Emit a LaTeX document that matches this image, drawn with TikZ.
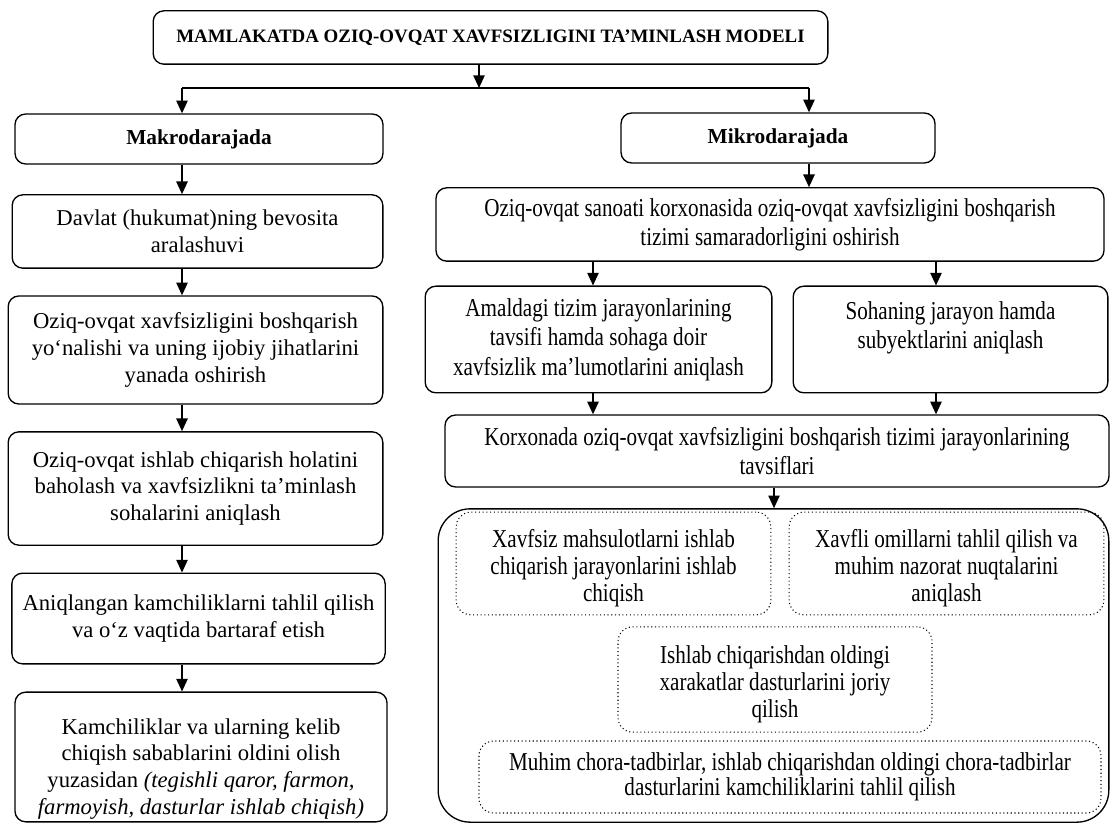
\documentclass[tikz,border=0pt]{standalone}
\usepackage{fontspec}
\setmainfont{Liberation Serif}
\newfontfamily\narrowserif[FakeStretch=0.82]{Liberation Serif}
\usetikzlibrary{positioning, arrows.meta, calc}

\begin{document}
\begin{tikzpicture}[x=0.75pt, y=-0.75pt,
  every node/.style={font=\fontsize{17}{20}\selectfont},
  mainbox/.style={rectangle, rounded corners=8pt, draw=black, line width=1pt,
              align=center, inner sep=2pt},
  headbox/.style={mainbox, font=\fontsize{16}{19}\selectfont\bfseries},
  rightbox/.style={mainbox, font=\narrowserif\fontsize{19.3}{22}\selectfont},
  dotbox/.style={rectangle, rounded corners=11pt, draw=black, dotted, line width=0.8pt,
              align=center, inner sep=2pt, font=\narrowserif\fontsize{19.3}{20.5}\selectfont},
  groupbox/.style={rectangle, rounded corners=24pt, draw=black, line width=1pt},
  arr/.style={-{Triangle[length=9.5pt, width=8.5pt]}, line width=1.1pt},
  link/.style={line width=1.1pt},
]
  \useasboundingbox (0,0) rectangle (1110,823);

  \coordinate (split)  at (479, 88);
  \coordinate (lsplit) at (182, 88);
  \coordinate (rsplit) at (809, 88);
  \coordinate (ax)     at (593, 0);
  \coordinate (sx)     at (936, 0);
  \coordinate (kx)     at (774, 0);

  \node[mainbox, font=\fontsize{14.2}{17}\selectfont\bfseries, minimum width=506pt,
        minimum height=40pt] (title) at (490.5, 37.5)
        {MAMLAKATDA OZIQ-OVQAT XAVFSIZLIGINI TA’MINLASH MODELI};

  \node[headbox, minimum width=276pt, minimum height=37.5pt] (makro) at (199, 139) {Makrodarajada};
  \node[headbox, minimum width=235.5pt, minimum height=37.5pt] (mikro) at (778, 138) {Mikrodarajada};

  % left column
  \node[mainbox, minimum width=278pt, minimum height=55pt] (davlat) at (197.5, 231.5)
        {Davlat (hukumat)ning bevosita\\aralashuvi};
  \node[mainbox, minimum width=281pt, minimum height=81pt] (yonalish) at (195.5, 350)
        {Oziq-ovqat xavfsizligini boshqarish\\yo‘nalishi va uning ijobiy jihatlarini\\yanada oshirish};
  \node[mainbox, minimum width=281pt, minimum height=85pt] (baholash) at (195.5, 488.5)
        {Oziq-ovqat ishlab chiqarish holatini\\baholash va xavfsizlikni ta’minlash\\sohalarini aniqlash};
  \node[mainbox, minimum width=280pt, minimum height=68pt] (tahlil) at (198.5, 618.5)
        {Aniqlangan kamchiliklarni tahlil qilish\\va o‘z vaqtida bartaraf etish};
  \node[mainbox, minimum width=279pt, minimum height=96pt] (oldini) at (201, 757)
        {\mbox{}\\[9.6pt]Kamchiliklar va ularning kelib\\chiqish sabablarini oldini olish\\yuzasidan
         \textit{(tegishli qaror, farmon,}\\\textit{farmoyish, dasturlar ishlab chiqish)}};

  % right column
  \node[rightbox, minimum width=501pt, minimum height=55pt] (sanoat) at (770, 224.5)
        {Oziq-ovqat sanoati korxonasida oziq-ovqat xavfsizligini boshqarish\\tizimi samaradorligini oshirish};
  \node[rightbox, minimum width=260pt, minimum height=80pt] (amal) at (598.5, 339.5)
        {Amaldagi tizim jarayonlarining\\tavsifi hamda sohaga doir\\xavfsizlik ma’lumotlarini aniqlash};
  \node[rightbox, minimum width=236pt, minimum height=80pt] (soha) at (950.5, 339.5)
        {Sohaning jarayon hamda\\subyektlarini aniqlash\\\mbox{}};
  \node[rightbox, minimum width=498pt, minimum height=54pt] (korxona) at (777, 451)
        {Korxonada oziq-ovqat xavfsizligini boshqarish tizimi jarayonlarining\\tavsiflari};

  \node[groupbox, minimum width=503pt, minimum height=235pt] (grp) at (773.5, 665.5) {};
  \node[dotbox, minimum width=236pt, minimum height=77pt] (xavfsiz) at (613.5, 563.5)
        {\mbox{}\\Xavfsiz mahsulotlarni ishlab\\chiqarish jarayonlarini ishlab\\chiqish};
  \node[dotbox, minimum width=236pt, minimum height=77pt] (xavfli) at (946.5, 563.5)
        {\mbox{}\\Xavfli omillarni tahlil qilish va\\muhim nazorat nuqtalarini\\aniqlash};
  \node[dotbox, minimum width=235.5pt, minimum height=79pt] (joriy) at (775, 679.5)
        {\mbox{}\\Ishlab chiqarishdan oldingi\\xarakatlar dasturlarini joriy\\qilish};
  \node[dotbox, font=\narrowserif\fontsize{19.3}{17.5}\selectfont, minimum width=466.5pt,
        minimum height=54pt] (muhim) at (790, 777)
        {Muhim chora-tadbirlar, ishlab chiqarishdan oldingi chora-tadbirlar\\dasturlarini kamchiliklarini tahlil qilish};

  \draw[arr] (title.south -| split) -- (split);
  \draw[link] (lsplit) -- (rsplit);
  \draw[arr] (lsplit) -- (makro.north -| lsplit);
  \draw[arr] (rsplit) -- (mikro.north -| rsplit);

  \draw[arr] (makro.south -| lsplit) -- (davlat.north -| lsplit);
  \draw[arr] (davlat.south -| lsplit) -- (yonalish.north -| lsplit);
  \draw[arr] (yonalish.south -| lsplit) -- (baholash.north -| lsplit);
  \draw[arr] (baholash.south -| lsplit) -- (tahlil.north -| lsplit);
  \draw[arr] (tahlil.south -| lsplit) -- (oldini.north -| lsplit);

  \draw[arr] (mikro.south -| rsplit) -- (sanoat.north -| rsplit);
  \draw[arr] (sanoat.south -| ax) -- (amal.north -| ax);
  \draw[arr] (sanoat.south -| sx) -- (soha.north -| sx);
  \draw[arr] (amal.south -| ax) -- (korxona.north -| ax);
  \draw[arr] (soha.south -| sx) -- (korxona.north -| sx);
  \draw[arr] (korxona.south -| kx) -- (grp.north -| kx);
\end{tikzpicture}
\end{document}
